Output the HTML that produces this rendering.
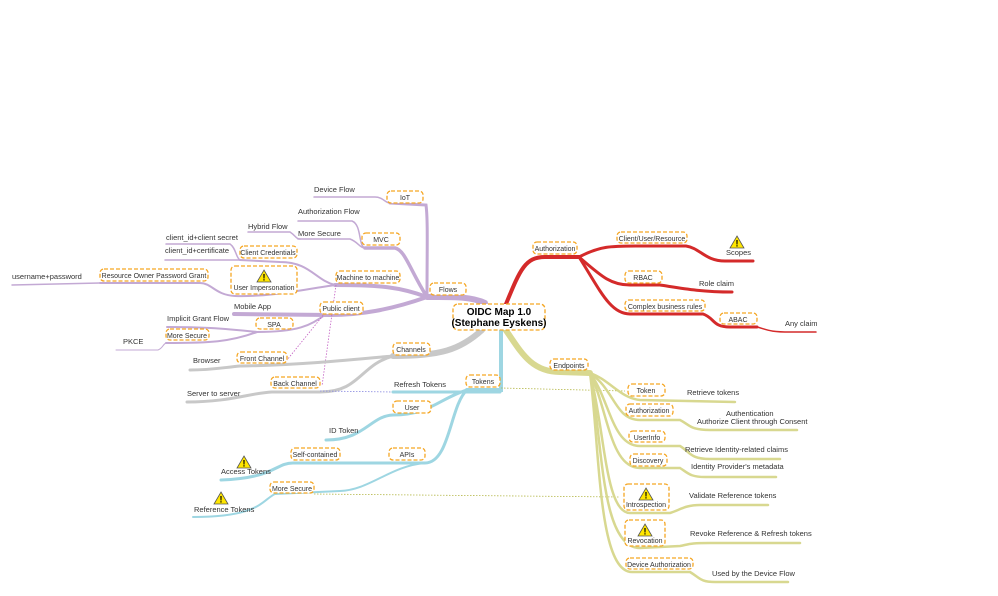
<!DOCTYPE html>
<html><head><meta charset="utf-8"><style>
html,body{margin:0;padding:0;background:#fff;width:998px;height:596px;overflow:hidden}
text{font-family:"Liberation Sans",sans-serif;font-size:7.5px;fill:#333}
.bx text{font-size:7px}
.b{fill:#fff;stroke:#f5a623;stroke-width:1.3;stroke-dasharray:4 2}
.p{stroke:#c3a9d4;fill:none;stroke-linecap:round}
.r{stroke:#d42a2a;fill:none;stroke-linecap:round}
.g{stroke:#c8c8c8;fill:none;stroke-linecap:round}
.c{stroke:#9ed6e2;fill:none;stroke-linecap:round}
.o{stroke:#d8d890;fill:none;stroke-linecap:round}
</style></head><body>
<svg width="998" height="596" viewBox="0 0 998 596" xmlns="http://www.w3.org/2000/svg">
<defs>
<g id="w"><path d="M0,-7 L7,5 L-7,5 Z" fill="#ffe600" stroke="#555" stroke-width="0.8"/><text x="0" y="3.5" text-anchor="middle" style="font-size:9px;font-weight:bold;fill:#000">!</text></g>
</defs>

<path class="p" stroke-width="6" d="M485,303 C470,296 450,297 427,297"/>
<path class="p" stroke-width="3" d="M427,297 C427,250 428,220 426,205 L390,203"/>
<path class="p" stroke-width="1.5" d="M314,197 L375,197 C383,197 385,203 390,203"/>
<path class="p" stroke-width="3.5" d="M427,297 C410,270 405,250 395,248 L365,248"/>
<path class="p" stroke-width="1.5" d="M298,221 L352,221 C362,225 358,246 365,248"/>
<path class="p" stroke-width="1.5" d="M298,239 L350,239 C358,242 360,248 365,248"/>
<path class="p" stroke-width="1.5" d="M248,232 L290,232 C296,236 296,239 300,239"/>
<path class="p" stroke-width="4" d="M427,297 C400,287 380,285 335,285"/>
<path class="p" stroke-width="2" d="M335,285 C315,280 310,262 280,262 L240,260"/>
<path class="p" stroke-width="1.5" d="M165,260 L240,260"/>
<path class="p" stroke-width="1.5" d="M166,244 L230,244 C236,248 236,258 240,260"/>
<path class="p" stroke-width="2" d="M335,285 C300,290 270,297 235,296 C215,295 212,283 200,283 L100,283"/>
<path class="p" stroke-width="1.5" d="M12,285 L100,283"/>
<path class="p" stroke-width="4" d="M427,297 C390,310 360,315 330,315 L234,314"/>
<path class="p" stroke-width="2" d="M325,315 C310,325 300,332 257,332 C220,328 200,327 167,327"/>
<path class="p" stroke-width="2" d="M257,332 C230,342 210,343 166,343"/>
<path class="p" stroke-width="1" d="M116,350 L158,350 C163,348 163,344 166,343"/>
<path stroke="#c35fc3" stroke-width="0.8" stroke-dasharray="1.5 1.5" fill="none" d="M336,285 L322,386 M325,313 L287,360"/>

<path class="g" stroke-width="6" d="M482,330 C460,350 440,356 393,356"/>
<path class="g" stroke-width="3" d="M393,356 C350,360 300,365 240,366 C220,368 210,370 190,370"/>
<path class="g" stroke-width="3" d="M393,356 C360,365 360,392 320,392 L272,392 C250,393 230,402 187,402"/>
<path stroke="#8888e0" stroke-width="0.8" stroke-dasharray="1.5 1.5" fill="none" d="M320,391 L393,392"/>

<path class="c" stroke-width="4" d="M501,329 L501,390 L467,390"/>
<path class="c" stroke-width="3" d="M500,392 L393,392"/>
<path class="c" stroke-width="3" d="M467,390 C440,398 430,415 393,415 C370,416 365,440 326,440"/>
<path class="c" stroke-width="3" d="M467,390 C450,405 450,463 425,463 L293,463 C275,463 275,478 221,480"/>
<path class="c" stroke-width="2" d="M425,463 C390,466 370,490 340,491 L275,494 C262,500 260,517 193,517"/>
<path stroke="#b5b84a" stroke-width="0.8" stroke-dasharray="1.5 1.5" fill="none" d="M501,388 L625,391 M314,494 L620,497"/>

<path class="r" stroke-width="4" d="M506,304 C520,270 525,257 545,257 L579,257"/>
<path class="r" stroke-width="3" d="M579,257 C600,246 610,246 640,246 L686,246 C700,248 705,261 725,261 L753,261"/>
<path class="r" stroke-width="3" d="M579,257 C600,275 610,285 630,285 L660,285 C680,288 700,292 732,292"/>
<path class="r" stroke-width="3" d="M579,257 C600,290 610,314 630,314 L703,314 C715,318 712,327 730,327 L757,327"/>
<path class="r" stroke-width="1.5" d="M757,327 C768,330 770,332 790,332 L816,332"/>

<path class="o" stroke-width="6" d="M505,329 C520,350 530,372 560,372 L590,373"/>
<g class="o" stroke-width="2.5">
<path d="M590,373 C610,380 620,398 640,400 L735,402"/>
<path d="M590,373 C615,390 615,420 640,420 L680,420 C690,425 690,430 710,430 L797,430"/>
<path d="M590,373 C610,400 612,446 640,446 L680,446 C690,452 690,459 710,459 L780,459"/>
<path d="M590,373 C608,410 610,468 640,468 L680,468 C688,473 690,477 705,477 L776,477"/>
<path d="M590,373 C605,430 605,513 630,513 L670,513 C680,510 685,505 700,505 L768,505"/>
<path d="M590,373 C603,440 600,548 640,548 L680,546 C690,544 690,543 710,543 L800,543"/>
<path d="M590,373 C600,450 598,572 632,572 L690,572 C700,578 700,582 715,582 L788,582"/>
</g>

<g class="bx">
<rect class="b" x="453" y="304" width="92" height="26" rx="5"/>
<text x="499" y="315" text-anchor="middle" style="font-size:10px;font-weight:bold;fill:#000">OIDC Map 1.0</text>
<text x="499" y="326" text-anchor="middle" style="font-size:10px;font-weight:bold;fill:#000">(Stephane Eyskens)</text>
<rect class="b" x="430" y="283" width="36" height="12" rx="4"/><text x="448" y="292" text-anchor="middle">Flows</text>
<rect class="b" x="387" y="191" width="36" height="12" rx="4"/><text x="405" y="200" text-anchor="middle">IoT</text>
<rect class="b" x="362" y="233" width="38" height="12" rx="4"/><text x="381" y="242" text-anchor="middle">MVC</text>
<rect class="b" x="336" y="271" width="64" height="12" rx="4"/><text x="368" y="280" text-anchor="middle">Machine to machine</text>
<rect class="b" x="240" y="246" width="57" height="12" rx="4"/><text x="268" y="255" text-anchor="middle">Client Credentials</text>
<rect class="b" x="231" y="266" width="66" height="28" rx="4"/><text x="264" y="290" text-anchor="middle">User Impersonation</text>
<use href="#w" x="264" y="277"/>
<rect class="b" x="100" y="269" width="108" height="12" rx="4"/><text x="154" y="278" text-anchor="middle">Resource Owner Password Grant</text>
<rect class="b" x="320" y="302" width="43" height="12" rx="4"/><text x="341" y="311" text-anchor="middle">Public client</text>
<rect class="b" x="256" y="318" width="37" height="11" rx="4"/><text x="274" y="327" text-anchor="middle">SPA</text>
<rect class="b" x="166" y="329" width="43" height="11" rx="4"/><text x="187" y="338" text-anchor="middle">More Secure</text>
<rect class="b" x="393" y="343" width="37" height="12" rx="4"/><text x="411" y="352" text-anchor="middle">Channels</text>
<rect class="b" x="237" y="352" width="50" height="11" rx="4"/><text x="262" y="361" text-anchor="middle">Front Channel</text>
<rect class="b" x="271" y="377" width="49" height="11" rx="4"/><text x="295" y="386" text-anchor="middle">Back Channel</text>
<rect class="b" x="466" y="375" width="34" height="12" rx="4"/><text x="483" y="384" text-anchor="middle">Tokens</text>
<rect class="b" x="393" y="401" width="38" height="12" rx="4"/><text x="412" y="410" text-anchor="middle">User</text>
<rect class="b" x="389" y="448" width="36" height="12" rx="4"/><text x="407" y="457" text-anchor="middle">APIs</text>
<rect class="b" x="291" y="448" width="49" height="12" rx="4"/><text x="315" y="457" text-anchor="middle">Self-contained</text>
<rect class="b" x="270" y="482" width="44" height="11" rx="4"/><text x="292" y="491" text-anchor="middle">More Secure</text>
<rect class="b" x="533" y="242" width="44" height="12" rx="4"/><text x="555" y="251" text-anchor="middle">Authorization</text>
<rect class="b" x="617" y="232" width="70" height="11" rx="4"/><text x="652" y="241" text-anchor="middle">Client/User/Resource</text>
<rect class="b" x="625" y="271" width="37" height="12" rx="4"/><text x="643" y="280" text-anchor="middle">RBAC</text>
<rect class="b" x="625" y="300" width="80" height="11" rx="4"/><text x="665" y="309" text-anchor="middle">Complex business rules</text>
<rect class="b" x="720" y="313" width="37" height="11" rx="4"/><text x="738" y="322" text-anchor="middle">ABAC</text>
<rect class="b" x="550" y="359" width="38" height="11" rx="4"/><text x="569" y="368" text-anchor="middle">Endpoints</text>
<rect class="b" x="628" y="384" width="37" height="12" rx="4"/><text x="646" y="393" text-anchor="middle">Token</text>
<rect class="b" x="626" y="404" width="47" height="12" rx="4"/><text x="649" y="413" text-anchor="middle">Authorization</text>
<rect class="b" x="629" y="431" width="36" height="11" rx="4"/><text x="647" y="440" text-anchor="middle">UserInfo</text>
<rect class="b" x="630" y="454" width="37" height="12" rx="4"/><text x="648" y="463" text-anchor="middle">Discovery</text>
<rect class="b" x="624" y="484" width="45" height="26" rx="4"/><text x="646" y="507" text-anchor="middle">Introspection</text>
<use href="#w" x="646" y="495"/>
<rect class="b" x="625" y="520" width="40" height="26" rx="4"/><text x="645" y="543" text-anchor="middle">Revocation</text>
<use href="#w" x="645" y="531"/>
<rect class="b" x="626" y="558" width="67" height="11" rx="4"/><text x="659" y="567" text-anchor="middle">Device Authorization</text>
</g>

<text x="314" y="192">Device Flow</text>
<text x="298" y="214">Authorization Flow</text>
<text x="248" y="229">Hybrid Flow</text>
<text x="298" y="236">More Secure</text>
<text x="166" y="240">client_id+client secret</text>
<text x="165" y="253">client_id+certificate</text>
<text x="12" y="279">username+password</text>
<text x="234" y="309">Mobile App</text>
<text x="167" y="321">Implicit Grant Flow</text>
<text x="123" y="344">PKCE</text>
<text x="193" y="363">Browser</text>
<text x="187" y="396">Server to server</text>
<text x="394" y="387">Refresh Tokens</text>
<text x="329" y="433">ID Token</text>
<text x="221" y="474">Access Tokens</text>
<use href="#w" x="244" y="463"/>
<text x="194" y="512">Reference Tokens</text>
<use href="#w" x="221" y="499"/>
<use href="#w" x="737" y="243"/>
<text x="726" y="255">Scopes</text>
<text x="699" y="286">Role claim</text>
<text x="785" y="326">Any claim</text>
<text x="687" y="395">Retrieve tokens</text>
<text x="726" y="416">Authentication</text>
<text x="697" y="424">Authorize Client through Consent</text>
<text x="685" y="452">Retrieve Identity-related claims</text>
<text x="691" y="469">Identity Provider's metadata</text>
<text x="689" y="498">Validate Reference tokens</text>
<text x="690" y="536">Revoke Reference &amp; Refresh tokens</text>
<text x="712" y="576">Used by the Device Flow</text>
</svg>
</body></html>
